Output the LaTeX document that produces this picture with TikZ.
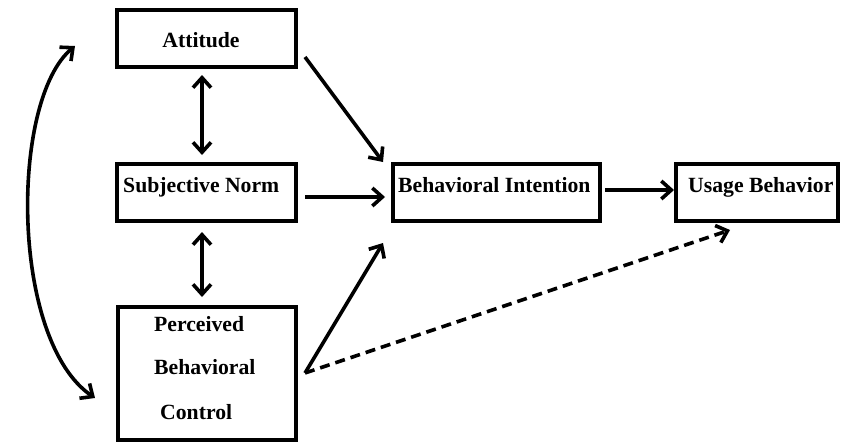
\documentclass[tikz,border=0pt]{standalone}
\usepackage{fontspec}
\setmainfont{Liberation Serif}
\usetikzlibrary{arrows.meta}
\tikzset{
  box/.style={draw=black, line width=4pt, minimum width=#1, inner sep=0pt},
  lbl/.style={anchor=base west, inner sep=0pt, font=\bfseries\fontsize{21.7}{26}\selectfont},
  tip/.style={Straight Barb[length=10pt,width=18pt,line width=3.6pt]},
  conn/.style={line width=3.6pt, -{Straight Barb[length=10pt,width=18pt,line width=3.6pt]}},
  bconn/.style={line width=3.6pt, {Straight Barb[length=10pt,width=18pt,line width=3.6pt]}-{Straight Barb[length=10pt,width=18pt,line width=3.6pt]}},
}
\begin{document}
\begin{tikzpicture}[x=1pt,y=-1pt]
\useasboundingbox (0,0) rectangle (848,442);
% boxes
\node[box=179pt, minimum height=57pt] (att) at (206.5,38.5) {};
\node[box=179pt, minimum height=57pt] (sn) at (206.5,192.5) {};
\node[box=207pt, minimum height=57pt] (bi) at (496.5,192.5) {};
\node[box=162pt, minimum height=57pt] (ub) at (757,192.5) {};
\node[box=178pt, minimum height=133pt] (pbc) at (207,373.5) {};
% labels
\node[lbl, anchor=base] (tatt) at (201,47) {Attitude};
\node[lbl] (tsn) at (123,192) {Subjective Norm};
\node[lbl] (tbi) at (398,192) {Behavioral Intention};
\node[lbl] (tub) at (688,192) {Usage Behavior};
\node[lbl] (tp1) at (154,331) {Perceived};
\node[lbl] (tp2) at (154,374) {Behavioral};
\node[lbl] (tp3) at (160,419) {Control};
% connector end points
\coordinate (a1) at (202,75);
\coordinate (a2) at (202,155);
\coordinate (b1) at (202,232);
\coordinate (b2) at (202,297);
\coordinate (c1) at (305,57);
\coordinate (c2) at (383,162);
\coordinate (d1) at (305,197);
\coordinate (d2) at (385,197);
\coordinate (e1) at (305,373);
\coordinate (e2) at (383,243);
\coordinate (f2) at (730,230);
\coordinate (g1) at (605,190);
\coordinate (g2) at (674,190);
\coordinate (h1) at (75,46);
\coordinate (h2) at (95,398);
% connectors
\draw[bconn] (a1) -- (a2);
\draw[bconn] (b1) -- (b2);
\draw[conn] (c1) -- (c2);
\draw[conn] (d1) -- (d2);
\draw[conn] (e1) -- (e2);
\draw[conn, dash pattern=on 10pt off 6pt] (e1) -- (f2);
\draw[conn] (g1) -- (g2);
\draw[bconn] (h1) .. controls (10,100) and (10,340) .. (h2);
\end{tikzpicture}
\end{document}
